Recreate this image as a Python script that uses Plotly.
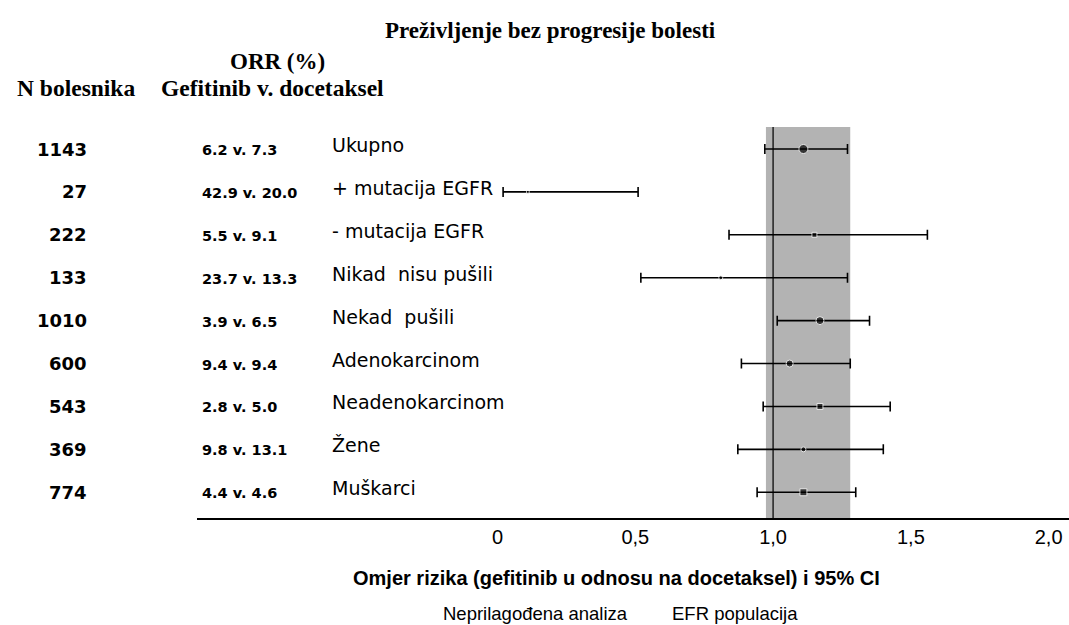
import plotly.graph_objects as go

# ---- data ----
n_patients = ["1143", "27", "222", "133", "1010", "600", "543", "369", "774"]
orr_text = ["6.2 v. 7.3", "42.9 v. 20.0", "5.5 v. 9.1", "23.7 v. 13.3", "3.9 v. 6.5",
            "9.4 v. 9.4", "2.8 v. 5.0", "9.8 v. 13.1", "4.4 v. 4.6"]
subgroups = ["Ukupno", "+ mutacija EGFR", "- mutacija EGFR", "Nikad  nisu pušili", "Nekad  pušili",
             "Adenokarcinom", "Neadenokarcinom", "Žene", "Muškarci"]
hr = [1.11, 0.11, 1.15, 0.81, 1.17, 1.06, 1.17, 1.11, 1.11]
ci_low = [0.97, 0.02, 0.84, 0.52, 1.015, 0.885, 0.964, 0.872, 0.942]
ci_high = [1.27, 0.51, 1.56, 1.27, 1.35, 1.28, 1.425, 1.40, 1.30]
marker_sizes = [9, 3, 5, 4, 8, 7, 6, 5, 7]
marker_symbols = ["circle", "circle", "square", "circle", "circle", "circle", "square", "circle", "square"]
tick_vals = [0, 0.5, 1.0, 1.5, 2.0]
tick_text = ["0", "0,5", "1,0", "1,5", "2,0"]
band = [0.974, 1.28]

rows = list(range(len(subgroups)))

fig = go.Figure()

fig.add_shape(type="rect", xref="x", yref="paper", x0=band[0], x1=band[1], y0=0, y1=1,
              fillcolor="#b3b3b3", line=dict(width=0), layer="below")
fig.add_shape(type="line", xref="x", yref="paper", x0=1.0, x1=1.0, y0=0, y1=1,
              line=dict(color="#222222", width=1.5), layer="below")

fig.add_trace(go.Scatter(
    x=hr, y=rows, mode="markers",
    marker=dict(size=marker_sizes, color="black", symbol=marker_symbols),
    error_x=dict(type="data", symmetric=False,
                 array=[h - m for h, m in zip(ci_high, hr)],
                 arrayminus=[m - l for m, l in zip(hr, ci_low)],
                 color="black", thickness=1.6, width=5),
    showlegend=False, hoverinfo="skip"))

SANS = "DejaVu Sans, Verdana, sans-serif"
ARIAL = "Liberation Sans, Arial, sans-serif"
SERIF = "Liberation Serif, Times New Roman, serif"

L, R, T, B = 197, 0, 127, 107
W, H = 1069, 625
PW = W - L - R
Y0 = H - B  # axis line pixel

def fx(px):
    return (px - L) / PW

def fy(py):
    return (Y0 - py) / (Y0 - T)

ann = []
for i in rows:
    ann.append(dict(x=fx(89), y=i, xref="paper", yref="y", xanchor="right", yanchor="middle",
                    text="<b>%s</b>" % n_patients[i], showarrow=False,
                    font=dict(family=SANS, size=18, color="black"), yshift=0))
    ann.append(dict(x=fx(200), y=i, xref="paper", yref="y", xanchor="left", yanchor="middle",
                    text="<b>%s</b>" % orr_text[i], showarrow=False,
                    font=dict(family=SANS, size=14.5, color="black"), yshift=-1))
    ann.append(dict(x=fx(330), y=i, xref="paper", yref="y", xanchor="left", yanchor="middle",
                    text=subgroups[i], showarrow=False,
                    font=dict(family=SANS, size=19, color="black"), yshift=4))

def px_ann(x, y, text, font, xanchor="center"):
    return dict(x=fx(x), y=fy(y), xref="paper", yref="paper",
                xanchor=xanchor, yanchor="middle", text=text, showarrow=False, font=font)

ann.append(px_ann(550, 30, "<b>Preživljenje bez progresije bolesti</b>",
                  dict(family=SERIF, size=23, color="black")))
ann.append(px_ann(277, 61, "<b>ORR (%)</b>", dict(family=SERIF, size=23, color="black")))
ann.append(px_ann(76, 88, "<b>N bolesnika</b>", dict(family=SERIF, size=23.5, color="black")))
ann.append(px_ann(272, 88, "<b>Gefitinib v. docetaksel</b>", dict(family=SERIF, size=23.5, color="black")))
ann.append(px_ann(616, 578, "<b>Omjer rizika (gefitinib u odnosu na docetaksel) i 95% CI</b>",
                  dict(family=ARIAL, size=20, color="black")))
ann.append(px_ann(535, 613, "Neprilagođena analiza", dict(family=ARIAL, size=18.5, color="black")))
ann.append(px_ann(735, 613, "EFR populacija", dict(family=ARIAL, size=18.5, color="black")))

fig.update_layout(
    width=W, height=H,
    margin=dict(l=L, r=R, t=T, b=B),
    paper_bgcolor="white", plot_bgcolor="white",
    annotations=ann,
    xaxis=dict(range=[-1.091, 2.074], tickvals=tick_vals, ticktext=tick_text,
               showgrid=False, zeroline=False, showline=True, linecolor="black", linewidth=2,
               ticks="", tickfont=dict(family=ARIAL, size=20, color="black")),
    yaxis=dict(range=[8.6, -0.513], showgrid=False, zeroline=False, showline=False,
               showticklabels=False, ticks=""),
)

fig.write_html("out.html", config={"displayModeBar": False},
               post_script="document.body.style.margin='0px';")
